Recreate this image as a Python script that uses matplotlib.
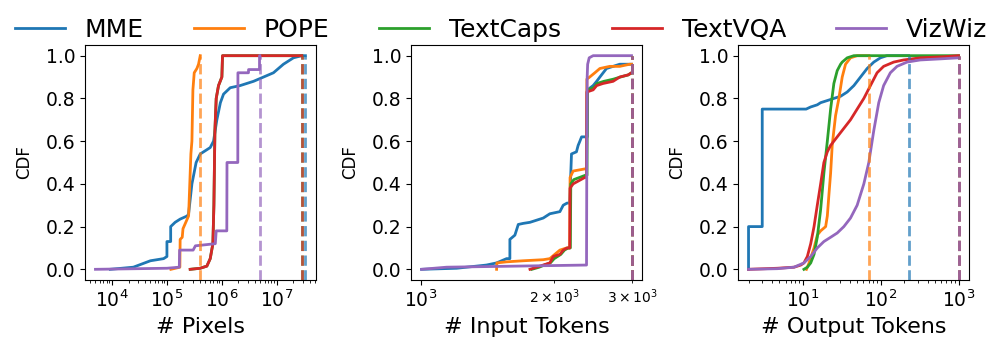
"""
CDF of image size, input tokens and output tokens per dataset
(MME, POPE, TextCaps, TextVQA, VizWiz). Dashed lines mark the max of each one.
"""

import matplotlib

matplotlib.use("Agg")
import matplotlib.pyplot as plt

DATASETS = ["MME", "POPE", "TextCaps", "TextVQA", "VizWiz"]
COLORS = ["#1f77b4", "#ff7f0e", "#2ca02c", "#d62728", "#9467bd"]

# --- # Pixels
PIX_MME_X = [9300, 24500, 50000, 87000, 100000, 100000, 117000, 117000, 141000,
             174000, 235000, 248000, 285000, 340000, 404000, 465000, 614000,
             705000, 811000, 940000, 1072000, 1420000, 2150000, 3770000,
             5730000, 8690000, 13200000, 20100000, 28500000, 33200000]
PIX_MME_CDF = [0.0, 0.01, 0.04, 0.05, 0.06, 0.13, 0.13, 0.20, 0.22, 0.235, 0.25,
               0.26, 0.40, 0.50, 0.54, 0.55, 0.57, 0.60, 0.70, 0.78, 0.82, 0.85,
               0.86, 0.88, 0.90, 0.92, 0.96, 0.99, 1.0, 1.0]
PIX_POPE_X = [118000, 172000, 174000, 190000, 196000, 248000, 273000, 285000,
              297000, 314000, 351000, 376000, 404000]
PIX_POPE_CDF = [0.0, 0.01, 0.14, 0.15, 0.19, 0.25, 0.54, 0.60, 0.84, 0.92, 0.94,
                0.96, 1.0]
PIX_TEXTCAPS_X = [265000, 404000, 533000, 614000, 686000, 716000, 747000, 789000,
                  869000, 1000000, 1028000, 28500000]
PIX_TEXTCAPS_CDF = [0.0, 0.005, 0.015, 0.05, 0.12, 0.30, 0.65, 0.80, 0.86, 0.90,
                    1.0, 1.0]
PIX_TEXTVQA_X = [265000, 404000, 533000, 614000, 686000, 716000, 747000, 789000,
                 869000, 1000000, 1028000, 28500000]
PIX_TEXTVQA_CDF = [0.0, 0.005, 0.015, 0.05, 0.12, 0.30, 0.65, 0.80, 0.86, 0.90,
                   1.0, 1.0]
PIX_VIZWIZ_X = [5000, 100000, 168000, 170000, 300000, 330000, 760000, 789000,
                1230000, 1240000, 1950000, 1960000, 3050000, 3060000, 4840000,
                4850000, 4900000]
PIX_VIZWIZ_CDF = [0.0, 0.005, 0.01, 0.09, 0.09, 0.11, 0.12, 0.18, 0.18, 0.50,
                  0.50, 0.92, 0.92, 0.935, 0.935, 1.0, 1.0]
PIX_MAX = [33200000, 404000, 28500000, 28500000, 4900000]

# --- # Input Tokens
IN_MME_X = [1003, 1204, 1406, 1482, 1561, 1588, 1588, 1630, 1659, 1702, 1763,
            1825, 1889, 1955, 2060, 2096, 2138, 2168, 2188, 2245, 2265, 2286,
            2306, 2345, 2374, 2378, 2449, 2494, 2536, 2625, 2717, 2812, 2938,
            2990]
IN_MME_CDF = [0.0, 0.005, 0.02, 0.03, 0.05, 0.05, 0.14, 0.16, 0.21, 0.215, 0.22,
              0.23, 0.24, 0.26, 0.27, 0.30, 0.31, 0.31, 0.54, 0.55, 0.58, 0.60,
              0.62, 0.62, 0.62, 0.84, 0.86, 0.88, 0.90, 0.94, 0.95, 0.96, 0.96,
              0.96]
IN_POPE_X = [1482, 1484, 1561, 1702, 1889, 1955, 2006, 2060, 2133, 2168, 2172,
             2207, 2345, 2366, 2370, 2405, 2471, 2536, 2670, 2812, 2963, 2990]
IN_POPE_CDF = [0.0, 0.03, 0.035, 0.04, 0.045, 0.05, 0.07, 0.09, 0.10, 0.10, 0.43,
               0.46, 0.47, 0.47, 0.89, 0.90, 0.92, 0.94, 0.95, 0.95, 0.96, 0.96]
IN_TEXTCAPS_X = [1780, 1850, 1900, 1960, 2000, 2070, 2110, 2150, 2175, 2180, 2215,
                 2350, 2372, 2376, 2455, 2500, 2590, 2720, 2820, 2940, 2990]
IN_TEXTCAPS_CDF = [0.0, 0.01, 0.02, 0.03, 0.05, 0.07, 0.09, 0.10, 0.10, 0.40,
                   0.42, 0.44, 0.44, 0.84, 0.85, 0.87, 0.88, 0.89, 0.90, 0.91,
                   0.92]
IN_TEXTVQA_X = [1763, 1825, 1889, 1955, 1990, 2060, 2096, 2138, 2168, 2172, 2207,
                2345, 2366, 2370, 2449, 2494, 2580, 2717, 2812, 2938, 2990]
IN_TEXTVQA_CDF = [0.0, 0.01, 0.02, 0.03, 0.06, 0.07, 0.09, 0.10, 0.10, 0.38, 0.40,
                  0.43, 0.43, 0.83, 0.84, 0.86, 0.87, 0.88, 0.90, 0.91, 0.92]
IN_VIZWIZ_X = [1003, 1143, 2366, 2370, 2374, 2380, 2399, 2449, 2990]
IN_VIZWIZ_CDF = [0.0, 0.01, 0.02, 0.60, 0.90, 0.96, 0.99, 1.0, 1.0]
IN_MAX = [2990, 2990, 2990, 2990, 2990]

# --- # Output Tokens
OUT_MME_X = [2, 2, 3, 3, 11, 12.6, 15.3, 16.9, 20.6, 25, 30.5, 37.1, 45.2, 55,
             66.9, 81.5, 99.1, 120, 228]
OUT_MME_CDF = [0.0, 0.2, 0.2, 0.75, 0.75, 0.76, 0.77, 0.78, 0.79, 0.80, 0.81,
               0.83, 0.86, 0.90, 0.94, 0.97, 0.99, 1.0, 1.0]
OUT_POPE_X = [11.1, 12.0, 13.9, 15.3, 16.9, 19.6, 20.6, 21.6, 22.7, 23.8, 25,
              26.3, 29, 32, 35.3, 40.9, 49.8, 70.3]
OUT_POPE_CDF = [0.0, 0.03, 0.10, 0.16, 0.18, 0.20, 0.25, 0.35, 0.45, 0.58, 0.65,
                0.72, 0.80, 0.90, 0.96, 0.99, 1.0, 1.0]
OUT_TEXTCAPS_X = [10.3, 11.4, 12.6, 13.9, 15.3, 16.9, 18.6, 20.6, 22.7, 25, 27.6,
                  30.5, 32, 37.1, 45.2, 1000]
OUT_TEXTCAPS_CDF = [0.0, 0.01, 0.03, 0.07, 0.15, 0.28, 0.45, 0.60, 0.75, 0.87,
                    0.93, 0.96, 0.97, 0.99, 1.0, 1.0]
OUT_TEXTVQA_X = [2, 4.7, 7.7, 9.4, 10.3, 11.4, 12.6, 13.9, 15.3, 16.9, 18.6, 20.6,
                 22.7, 27.6, 33.6, 40.9, 49.8, 60.7, 73.8, 89.8, 109, 147, 197,
                 323, 642, 1000]
OUT_TEXTVQA_CDF = [0.0, 0.005, 0.01, 0.02, 0.03, 0.06, 0.12, 0.20, 0.30, 0.40,
                   0.50, 0.55, 0.58, 0.62, 0.66, 0.70, 0.75, 0.80, 0.86, 0.92,
                   0.95, 0.97, 0.98, 0.99, 0.995, 1.0]
OUT_VIZWIZ_X = [2, 4.7, 7.7, 10.3, 12.6, 15.3, 18.6, 22.7, 27.6, 33.6, 40.9, 49.8,
                60.7, 70.3, 81.5, 94.4, 109, 133, 162, 218, 323, 582, 1000]
OUT_VIZWIZ_CDF = [0.0, 0.003, 0.01, 0.03, 0.06, 0.10, 0.13, 0.15, 0.17, 0.20,
                  0.24, 0.30, 0.40, 0.50, 0.65, 0.78, 0.86, 0.92, 0.95, 0.97,
                  0.98, 0.985, 0.99]
OUT_MAX = [228, 70.3, 1000, 1000, 1000]


def plot_panel(ax, curves, maxima, xlabel):
    for (x, cdf), color, name in zip(curves, COLORS, DATASETS):
        ax.plot(x, cdf, color=color, lw=2, label=name)
    for xmax, color in zip(maxima, COLORS):
        ax.vlines(xmax, -0.05, 1.0, colors=color, linestyles="--", lw=2, alpha=0.7)

    ax.set_xscale("log")
    ax.set_ylim(-0.05, 1.05)
    ax.set_yticks([0.0, 0.2, 0.4, 0.6, 0.8, 1.0])
    ax.set_xlabel(xlabel, fontsize=16)
    ax.set_ylabel("CDF", fontsize=12, labelpad=9)
    ax.tick_params(labelsize=13.5)


def main() -> None:
    panels = [
        ("# Pixels", [(PIX_MME_X, PIX_MME_CDF), (PIX_POPE_X, PIX_POPE_CDF),
                      (PIX_TEXTCAPS_X, PIX_TEXTCAPS_CDF),
                      (PIX_TEXTVQA_X, PIX_TEXTVQA_CDF),
                      (PIX_VIZWIZ_X, PIX_VIZWIZ_CDF)], PIX_MAX),
        ("# Input Tokens", [(IN_MME_X, IN_MME_CDF), (IN_POPE_X, IN_POPE_CDF),
                            (IN_TEXTCAPS_X, IN_TEXTCAPS_CDF),
                            (IN_TEXTVQA_X, IN_TEXTVQA_CDF),
                            (IN_VIZWIZ_X, IN_VIZWIZ_CDF)], IN_MAX),
        ("# Output Tokens", [(OUT_MME_X, OUT_MME_CDF), (OUT_POPE_X, OUT_POPE_CDF),
                             (OUT_TEXTCAPS_X, OUT_TEXTCAPS_CDF),
                             (OUT_TEXTVQA_X, OUT_TEXTVQA_CDF),
                             (OUT_VIZWIZ_X, OUT_VIZWIZ_CDF)], OUT_MAX),
    ]

    fig = plt.figure(figsize=(9.96, 3.48), dpi=100)
    lefts = [0.0853, 0.4127, 0.741]
    axes = []
    for left, (xlabel, curves, maxima) in zip(lefts, panels):
        ax = fig.add_axes([left, 0.1954, 0.2319, 0.6753])
        plot_panel(ax, curves, maxima, xlabel)
        axes.append(ax)

    handles, labels = axes[0].get_legend_handles_labels()
    fig.legend(handles, labels, loc="center", bbox_to_anchor=(0.503, 0.915),
               ncol=5, frameon=False, fontsize=18)

    fig.savefig("out.png", dpi=100)


if __name__ == "__main__":
    main()
